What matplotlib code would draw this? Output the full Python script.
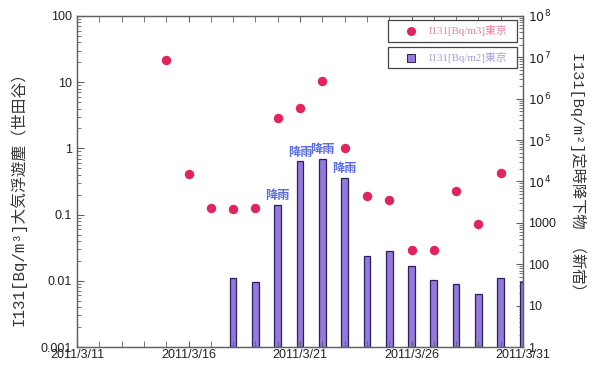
import matplotlib
matplotlib.use("Agg")
import matplotlib.pyplot as plt
import matplotlib.dates as mdates
from matplotlib.ticker import LogLocator, NullFormatter, FuncFormatter
from matplotlib.lines import Line2D
from matplotlib.patches import Rectangle
import pandas as pd
import numpy as np

# ---- data ----
air_dates = ["2011-03-15", "2011-03-16", "2011-03-17", "2011-03-18", "2011-03-19",
             "2011-03-20", "2011-03-21", "2011-03-22", "2011-03-23", "2011-03-24",
             "2011-03-25", "2011-03-26", "2011-03-27", "2011-03-28", "2011-03-29",
             "2011-03-30"]
air_values = [22, 0.41, 0.128, 0.123, 0.128, 2.85, 4.1, 10.3, 1.0, 0.194,
              0.169, 0.0295, 0.0295, 0.23, 0.071, 0.43]

fall_dates = ["2011-03-18", "2011-03-19", "2011-03-20", "2011-03-21", "2011-03-22",
              "2011-03-23", "2011-03-24", "2011-03-25", "2011-03-26", "2011-03-27",
              "2011-03-28", "2011-03-29", "2011-03-30", "2011-03-31"]
fall_values = [46, 37, 2760, 30500, 35500, 12300, 161, 209, 93, 41.5, 34, 19.5, 46, 37]

rain_dates = ["2011-03-20", "2011-03-21", "2011-03-22", "2011-03-23"]
rain_label = "降雨"

legend_air = "I131[Bq/m3]東京"
legend_fall = "I131[Bq/m2]東京"
left_label = "I131[Bq/m³]大気浮遊塵（世田谷）"
right_label = "I131[Bq/m²]定時降下物 （新宿）"
x_start, x_end = "2011-03-11", "2011-03-31"

# ---- style ----
cjk = ["Noto Sans CJK JP", "DejaVu Sans"]
mincho_like = ["Liberation Mono", "Noto Sans CJK JP", "DejaVu Sans"]
serif_like = ["Liberation Serif", "Noto Sans CJK JP", "DejaVu Sans"]
tick_font = "Liberation Sans"
c_point = "#e2245e"
c_bar = "#9379db"
c_bar_edge = "#2a2060"
c_rain = "#5a6de0"
c_spine = "#606060"

plt.rcParams["font.family"] = [tick_font, "DejaVu Sans"]

W, H = 600, 372
fig = plt.figure(figsize=(W/100, H/100), dpi=100)
ax = fig.add_axes([77/W, 25/H, 446/W, 331/H])
ax2 = ax.twinx()
ax.set_zorder(ax2.get_zorder() + 1)
ax.patch.set_visible(False)

ad = pd.to_datetime(air_dates)
fd = pd.to_datetime(fall_dates)

ax2.bar(fd, fall_values, width=0.3, color=c_bar, edgecolor=c_bar_edge,
        linewidth=0.9, align="center", zorder=2)
ax.plot(ad, air_values, "o", color=c_point, markersize=6.8, markeredgewidth=0, zorder=3)

# rain labels
fv = dict(zip(fd, fall_values))
for d in pd.to_datetime(rain_dates):
    ax2.annotate(rain_label, (d, fv[d]), xytext=(0, 2.0), textcoords="offset points",
                 ha="center", va="bottom", color=c_rain, fontsize=8.8,
                 fontweight="bold", family=cjk)

ax.set_yscale("log")
ax2.set_yscale("log")
ax.set_ylim(1e-3, 1e2)
ax2.set_ylim(1, 1e8)
ax.set_xlim(pd.Timestamp(x_start), pd.Timestamp(x_end))

# x ticks
ax.xaxis.set_major_locator(mdates.DayLocator(bymonthday=[11, 16, 21, 26, 31]))
ax.xaxis.set_minor_locator(mdates.DayLocator())
ax.xaxis.set_major_formatter(FuncFormatter(
    lambda v, p: (lambda d: f"{d.year}/{d.month}/{d.day}")(mdates.num2date(v))))

# left y ticks
ax.yaxis.set_major_locator(LogLocator(base=10, numticks=10))
ax.yaxis.set_minor_locator(LogLocator(base=10, subs=np.arange(2, 10), numticks=20))
ax.yaxis.set_minor_formatter(NullFormatter())
ax.yaxis.set_major_formatter(FuncFormatter(lambda v, p: f"{v:g}"))

# right y ticks
ax2.yaxis.set_major_locator(LogLocator(base=10, numticks=12))
ax2.yaxis.set_minor_locator(LogLocator(base=10, subs=np.arange(2, 10), numticks=30))
ax2.yaxis.set_minor_formatter(NullFormatter())
def rfmt(v, p):
    e = int(round(np.log10(v)))
    if e <= 3:
        return f"{int(round(v))}"
    return f"$10^{{{e}}}$"
ax2.yaxis.set_major_formatter(FuncFormatter(rfmt))

for a in (ax, ax2):
    for s in a.spines.values():
        s.set_color(c_spine)
        s.set_linewidth(0.9)
ax.tick_params(axis="both", which="both", direction="in", colors=c_spine,
               labelcolor="#222222", labelsize=9)
ax.tick_params(axis="x", which="both", top=True)
ax.tick_params(axis="x", which="major", length=4, pad=1.5)
ax.tick_params(axis="x", which="minor", length=4)
ax.tick_params(axis="y", which="major", length=5)
ax.tick_params(axis="y", which="minor", length=3)
ax2.tick_params(axis="y", which="both", direction="in", colors=c_spine,
                labelcolor="#222222", labelsize=9)
ax2.tick_params(axis="y", which="major", length=5)
ax2.tick_params(axis="y", which="minor", length=3)

ax.set_ylabel(left_label, family=mincho_like, fontsize=11.3, color="#333333", labelpad=10)
ax.yaxis.label.set_y(0.46)
ax2.set_ylabel(right_label, family=mincho_like, fontsize=11, color="#333333",
               rotation=-90, labelpad=22)
ax2.yaxis.label.set_y(0.52)

# legend boxes (drawn in figure pixel coordinates)
def fig_xy(px, py):
    return px / W, 1 - py / H

def legend_box(y0, y1, handle, label, tcolor):
    x0, x1 = 388, 517
    fig.patches.append(Rectangle(fig_xy(x0, y1), (x1 - x0) / W, (y1 - y0) / H,
                                 transform=fig.transFigure, facecolor="white",
                                 edgecolor="#444444", linewidth=0.9, zorder=5))
    yc = (y0 + y1) / 2
    hx, hy = fig_xy(411, yc)
    if handle == "circle":
        fig.lines.append(Line2D([hx], [hy], marker="o", color=c_point, markersize=6.5,
                                markeredgewidth=0, transform=fig.transFigure, zorder=6))
    else:
        fig.lines.append(Line2D([hx], [hy], marker="s", markerfacecolor=c_bar,
                                markeredgecolor=c_bar_edge, markeredgewidth=0.7,
                                markersize=6.3, linestyle="none",
                                transform=fig.transFigure, zorder=6))
    tx, ty = fig_xy(429, yc)
    fig.text(tx, ty, label, ha="left", va="center", color=tcolor,
             fontsize=7.8, family=serif_like, zorder=6)

legend_box(20, 42, "circle", legend_air, "#ec7ea2")
legend_box(47, 68, "square", legend_fall, "#a79de2")

fig.savefig("out.png", dpi=100)
